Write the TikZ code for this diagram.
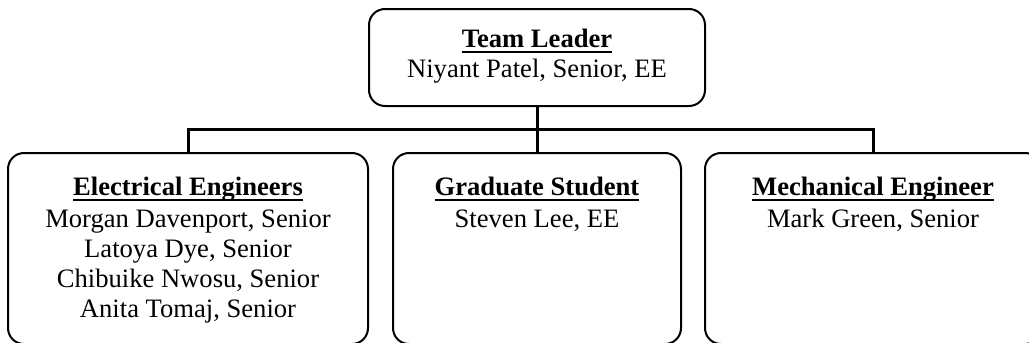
\documentclass[tikz,border=0pt]{standalone}
\usepackage{fontspec}
\setmainfont{Liberation Serif}
\usepackage{tikz}
\usetikzlibrary{positioning}
\tikzset{
    orgbox/.style = {draw, rectangle, rounded corners=8pt, line width=1pt,
        inner sep=0pt},
    boxtext/.style = {align=center, inner sep=0pt,
        font=\fontsize{13.3}{15}\selectfont},
    conn/.style = {draw, line width=1.5pt}
}
\newcommand{\heading}[1]{\setbox0\hbox{\bfseries #1}\rlap{\rule[-2.6pt]{\wd0}{1.1pt}}\box0}

\begin{document}
\begin{tikzpicture}[x=0.5pt,y=-0.5pt]
                \useasboundingbox (0,0) rectangle (1029,343);
                \clip (0,0) rectangle (1029,343);
                % boxes
                \node[orgbox,minimum width=168pt,minimum height=48.5pt] (lead) at (537,57.5) {};
                \node[orgbox,minimum width=180pt,minimum height=95.5pt] (ee) at (188,248.5) {};
                \node[orgbox,minimum width=144pt,minimum height=95.5pt] (grad) at (537,248.5) {};
                \node[orgbox,minimum width=168pt,minimum height=95.5pt] (me) at (873,248.5) {};
                % texts
                \node[boxtext,below=10.5pt of lead.north] (leadtxt) {\heading{Team Leader}\\Niyant Patel, Senior, EE};
                \node[boxtext,below=12.5pt of ee.north] (eetxt) {\heading{Electrical Engineers}\\[1pt]Morgan Davenport, Senior\\Latoya Dye, Senior\\Chibuike Nwosu, Senior\\Anita Tomaj, Senior};
                \node[boxtext,below=12.5pt of grad.north] (gradtxt) {\heading{Graduate Student}\\[1pt]Steven Lee, EE};
                \node[boxtext,below=12.5pt of me.north] (metxt) {\heading{Mechanical Engineer}\\[1pt]Mark Green, Senior};
                % connectors
                \coordinate (bar) at (537,129);
                \draw [conn] (ee.north) |- (bar) -| (me.north);
                \draw [conn] (lead.south) -- (grad.north);
            \end{tikzpicture}
\end{document}
